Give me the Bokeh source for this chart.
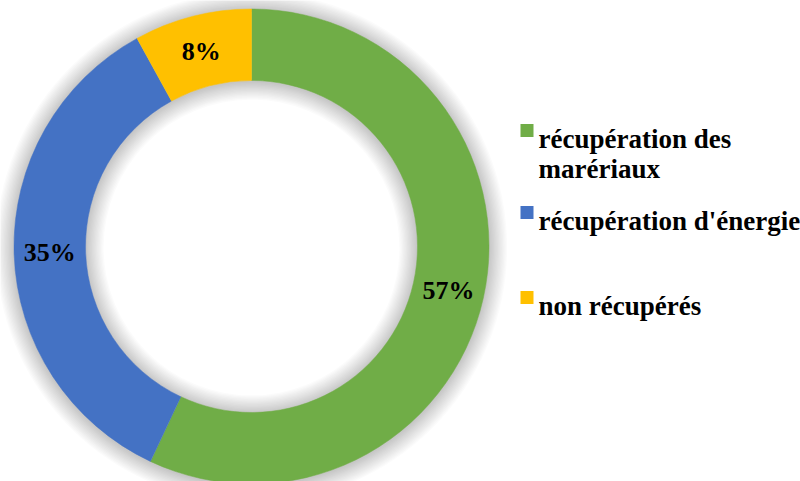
import math
from bokeh.plotting import figure
from bokeh.models import Range1d, ColumnDataSource
from bokeh.core.properties import value
from bokeh.embed import file_html
from bokeh.resources import INLINE

categories = ["récupération des marériaux", "récupération d'énergie", "non récupérés"]
legend_lines = [["récupération des", "marériaux"], ["récupération d'énergie"], ["non récupérés"]]
values = [57, 35, 8]
labels = ["57%", "35%", "8%"]
colors = ["#70AD47", "#4472C4", "#FFC000"]

W, H = 800, 481
p = figure(width=W, height=H, output_backend="svg", toolbar_location=None,
           x_range=Range1d(0, W), y_range=Range1d(0, H), min_border=0,
           background_fill_color="white", border_fill_color="white")
p.axis.visible = False
p.grid.visible = False
p.outline_line_color = None

cx, cy = 251, H - 246
r_out, r_in = 237.5, 166

# soft shadow
n = 14
for k in range(1, n + 1):
    p.annulus(x=cx, y=cy - 1, inner_radius=r_out - 2, outer_radius=r_out + k * 1.3,
              fill_color="black", fill_alpha=0.014, line_color=None)
    p.annulus(x=cx, y=cy - 1, inner_radius=r_in - k * 1.3, outer_radius=r_in + 2,
              fill_color="black", fill_alpha=0.014, line_color=None)

total = float(sum(values))
starts, ends, lx, ly = [], [], [], []
cum = 0.0
r_mid = (r_out + r_in) / 2
for v in values:
    a0 = math.pi / 2 - 2 * math.pi * cum / total
    cum += v
    a1 = math.pi / 2 - 2 * math.pi * cum / total
    starts.append(a0)
    ends.append(a1)
    am = (a0 + a1) / 2
    lx.append(cx + r_mid * math.cos(am))
    ly.append(cy + r_mid * math.sin(am))

src = ColumnDataSource(dict(start=starts, end=ends, color=colors, lx=lx, ly=ly, label=labels))
p.annular_wedge(x=cx, y=cy, inner_radius=r_in, outer_radius=r_out,
                start_angle="start", end_angle="end", direction="clock",
                fill_color="color", line_color="color", line_width=0.5, source=src)
p.text(x="lx", y="ly", text="label", source=src, text_align="center", text_baseline="middle",
       text_font=value("Liberation Serif"), text_font_style="bold", text_font_size="26px",
       text_color="black")

# legend
leg_x = 526.5
leg_text_x = 538
leg_base = [138, 220, 305]  # baseline y of first line (page px)
line_h = 30
for i, lines in enumerate(legend_lines):
    b = leg_base[i]
    p.rect(x=leg_x, y=H - (b - 8), width=13, height=13, fill_color=colors[i], line_color=None)
    for j, t in enumerate(lines):
        p.text(x=[leg_text_x], y=[H - (b + j * line_h)], text=[t], text_align="left",
               text_baseline="alphabetic", text_font=value("Liberation Serif"),
               text_font_style="bold", text_font_size="27px", text_color="black")

open("out.html", "w").write(file_html(p, INLINE))
